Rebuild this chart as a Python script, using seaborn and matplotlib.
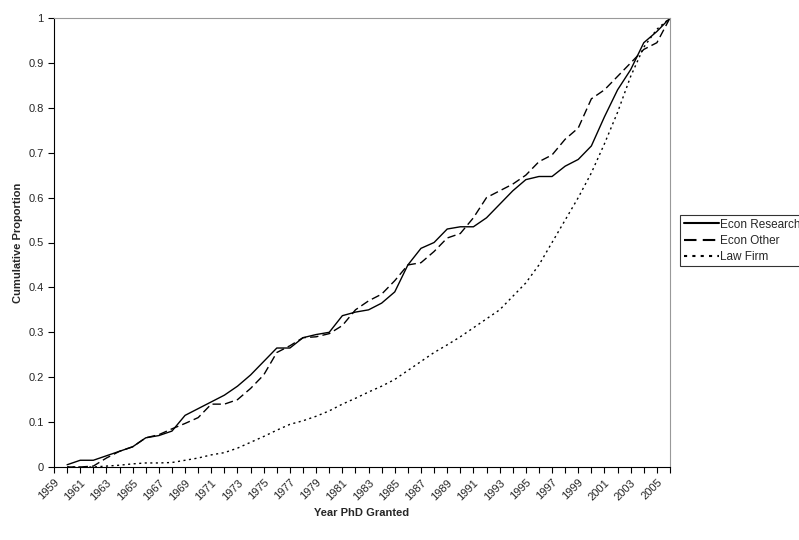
import matplotlib
matplotlib.use('Agg')
import matplotlib.pyplot as plt
import seaborn as sns
import pandas as pd

years = list(range(1960, 2007))
econ_research = [0.005, 0.015, 0.015, 0.025, 0.035, 0.045, 0.065, 0.07, 0.08, 0.115,
                 0.13, 0.145, 0.16, 0.18, 0.205, 0.235, 0.265, 0.265, 0.288, 0.295,
                 0.30, 0.337, 0.345, 0.35, 0.365, 0.39, 0.45, 0.487, 0.50, 0.53,
                 0.535, 0.535, 0.555, 0.585, 0.615, 0.64, 0.647, 0.647, 0.67, 0.685,
                 0.715, 0.78, 0.84, 0.885, 0.945, 0.97, 1.0]
econ_other = [0.0, 0.0, 0.002, 0.02, 0.035, 0.045, 0.065, 0.072, 0.085, 0.097,
              0.11, 0.14, 0.14, 0.15, 0.175, 0.205, 0.255, 0.27, 0.288, 0.29,
              0.297, 0.315, 0.35, 0.37, 0.385, 0.415, 0.45, 0.455, 0.48, 0.51,
              0.52, 0.555, 0.6, 0.615, 0.63, 0.65, 0.68, 0.695, 0.73, 0.755,
              0.82, 0.84, 0.87, 0.9, 0.93, 0.945, 1.0]
law_firm = [0.0, 0.0, 0.0, 0.002, 0.004, 0.007, 0.009, 0.009, 0.01, 0.015,
            0.02, 0.027, 0.032, 0.042, 0.055, 0.068, 0.082, 0.095, 0.103, 0.113,
            0.125, 0.14, 0.153, 0.167, 0.18, 0.195, 0.215, 0.235, 0.255, 0.272,
            0.29, 0.31, 0.33, 0.35, 0.38, 0.41, 0.45, 0.5, 0.55, 0.6,
            0.655, 0.72, 0.79, 0.87, 0.935, 0.975, 1.0]

df = pd.DataFrame({'Year': years, 'Econ Research': econ_research,
                   'Econ Other': econ_other, 'Law Firm': law_firm})
long = df.melt(id_vars='Year', var_name='Group', value_name='Proportion')

sns.set_style('white')
plt.rcParams['font.family'] = ['Liberation Sans', 'DejaVu Sans']

fig = plt.figure(figsize=(7.99, 5.40), dpi=100)
ax = fig.add_axes([54/799, 1 - 467/540, 616/799, 449/540])
sns.lineplot(data=long, x='Year', y='Proportion', hue='Group', style='Group',
             palette=['black'] * 3, dashes=[(None, None), (6, 3), (1.5, 2.5)],
             linewidth=1, ax=ax, legend=True)

ax.set_xlim(1959, 2006)
ax.set_ylim(0, 1)
ax.set_xticks(range(1959, 2007))
ax.set_xticklabels([str(y) if (y - 1959) % 2 == 0 else '' for y in range(1959, 2007)],
                   rotation=45, ha='right', rotation_mode='anchor', fontsize=8)
ax.set_yticks([i / 10 for i in range(11)])
ax.set_yticklabels(['0'] + [f'{i/10:g}' for i in range(1, 10)] + ['1'], fontsize=8)
ax.tick_params(axis='both', direction='out', length=4, width=0.8, color='black', bottom=True, left=True)
for s in ['left', 'bottom']:
    ax.spines[s].set_color('black')
for s in ['top', 'right']:
    ax.spines[s].set_color('#999999')
ax.set_xlabel('Year PhD Granted', fontsize=8, fontweight='bold')
ax.set_ylabel('Cumulative Proportion', fontsize=8, fontweight='bold')

leg = ax.legend(loc='upper left', bbox_to_anchor=(680/799, 1 - 215/540), bbox_transform=fig.transFigure,
                fontsize=8.5, frameon=True, fancybox=False, edgecolor='black',
                borderpad=0.3, labelspacing=0.35, handlelength=3.0, handletextpad=0.1,
                borderaxespad=0.0)
leg.get_frame().set_linewidth(0.8)
for h in leg.get_lines():
    h.set_linewidth(1.5)

fig.savefig('out.png', dpi=100)
